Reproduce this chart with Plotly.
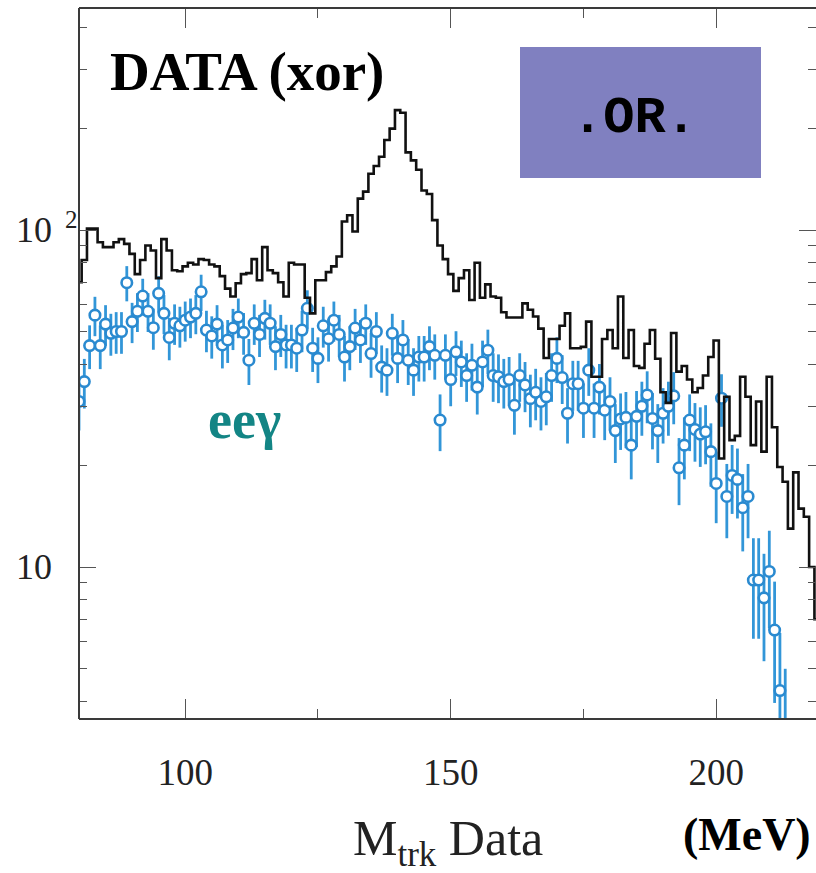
import plotly.graph_objects as go

# ---------------- data ----------------
hist_bins = list(range(80, 220))          # bin centres, MeV (1 MeV bins)
hist_counts = [
    70, 81.5, 101, 101, 92, 89, 89, 92, 94, 91,          # 80-89
    85, 74, 81.5, 90, 87, 72, 94, 87, 76, 75.5,          # 90-99
    78, 80, 79, 82, 81.5, 79, 78, 73, 67, 63.5,          # 100-109
    69.5, 74, 74.5, 82, 71, 89, 76, 74.5, 70, 63.5,      # 110-119
    80, 79, 79, 63, 56.6, 71, 71, 75, 78, 83.5,          # 120-129
    106, 110.6, 99, 124, 130, 147, 155, 165, 185, 200,   # 130-139
    227, 223, 170, 161, 151, 131, 128, 107, 90, 82,      # 140-149
    74, 66, 72, 76, 62, 80, 63, 69, 63.5, 63,            # 150-159
    57, 55, 55, 55, 60.6, 58, 55.4, 51, 41.7, 47.5,      # 160-169
    47.5, 52, 56.6, 44.6, 44.6, 45, 53.5, 36.7, 36.7, 47.5,  # 170-179
    50.5, 44.6, 63.5, 41.7, 50.5, 39.5, 39, 46, 50.5, 41.5,  # 180-189
    33, 30.7, 49.5, 38, 39.5, 36, 33, 34, 37, 42,        # 190-199
    47, 21, 32, 23.8, 24.5, 36.7, 32, 23, 31, 22,        # 200-209
    36.7, 26, 19.8, 17.9, 13, 19.1, 14.9, 14.1, 10, 7,   # 210-219
]

eeg_bins = list(range(80, 214))
eeg_counts = [
    31, 35.5, 45.4, 55.9, 45.4, 52.6, 49.4, 50, 50, 69.8,        # 80-89
    53.5, 57.4, 63.7, 57.4, 51.3, 64.9, 56.6, 48, 52.9, 52,      # 90-99
    54, 55.2, 56.6, 65.6, 50.5, 48.5, 52.6, 45.6, 47.2, 51.2,    # 100-109
    55.2, 49.7, 41.1, 52.9, 49, 54.7, 52.9, 45.1, 49, 45.6,      # 110-119
    45.6, 44.6, 50.5, 58.6, 44.6, 41.6, 52, 47.6, 54, 49,        # 120-129
    42, 45.1, 51.2, 47.2, 52.9, 43, 50, 39.2, 38.4, 49.4,        # 130-139
    41.6, 47.2, 41.1, 38.4, 42, 42, 45.1, 42.5, 27.3, 42.5,      # 140-149
    36, 43.5, 40.6, 37, 39.7, 34.2, 40.6, 44, 37, 36.7,          # 150-159
    35.5, 36, 30.2, 37, 34.7, 31.6, 33, 31, 32, 37,              # 160-169
    41.6, 36.5, 28.6, 35, 35, 29.6, 38.4, 29.6, 34.2, 29.2,      # 170-179
    31, 25.4, 27.5, 27.8, 23, 28, 30, 32.4, 27.6, 25.4,          # 180-189
    28.6, 30, 32.2, 19.7, 23, 27.3, 25.6, 24.8, 25.2, 22,        # 190-199
    17.7, 31.7, 16.2, 18.7, 18.2, 15, 16.2, 9.15, 9.15, 8.1,     # 200-209
    9.7, 6.5, 4.3, 3.2,                                          # 210-213
]

x_major = [100, 150, 200]
x_minor = [125, 175]
y_major = [10, 100]
y_minor = [4, 5, 6, 7, 8, 9, 20, 30, 40, 50, 60, 70, 80, 90, 200, 300, 400]

# ---------------- figure ----------------
W, H = 816, 873
L, R, T, B = 79, 0, 8, 154
PW = W - L - R
PH = H - T - B

BLUE = "#2a8ad0"
SERIF = "Liberation Serif, Times New Roman, serif"

fig = go.Figure()

fig.add_trace(go.Scatter(
    x=eeg_bins, y=eeg_counts, mode="markers",
    marker=dict(symbol="circle", size=10.5, color="white",
                line=dict(color=BLUE, width=2.6)),
    error_y=dict(type="sqrt", color="#3296d8", thickness=2.8, width=0),
    showlegend=False,
))

fig.add_trace(go.Scatter(
    x=hist_bins, y=hist_counts, mode="lines",
    line=dict(color="#111111", width=2.6, shape="hvh"),
    showlegend=False,
))

def px2paper_x(px):
    return (px - L) / PW

def px2paper_y(py):
    return (H - B - py) / PH

fig.update_layout(
    width=W, height=H,
    margin=dict(l=L, r=R, t=T, b=B, pad=0),
    paper_bgcolor="white", plot_bgcolor="white",
    showlegend=False,
    xaxis=dict(
        range=[80, 80 + PW / 5.31],
        showgrid=False, zeroline=False, showline=False,
        ticks="inside", ticklen=20, tickwidth=1.2, tickcolor="#555555",
        tickvals=x_major, ticktext=[str(v) for v in x_major],
        mirror="ticks",
        minor=dict(tickvals=x_minor, ticks="inside", ticklen=10,
                   tickwidth=1.2, tickcolor="#555555", showgrid=False),
        tickfont=dict(family=SERIF, size=37, color="#222222"),
        ticklabelstandoff=28,
    ),
    yaxis=dict(
        type="log",
        range=[0.549, 2.659],
        showgrid=False, zeroline=False, showline=False,
        ticks="inside", ticklen=17, tickwidth=1.2, tickcolor="#555555",
        tickvals=y_major, showticklabels=False,
        mirror="ticks",
        minor=dict(tickvals=y_minor, ticks="inside", ticklen=8,
                   tickwidth=1.2, tickcolor="#555555", showgrid=False),
    ),
)

# frame: left, top, bottom lines (right side lies beyond the picture)
frame = dict(type="line", xref="paper", yref="paper",
             line=dict(color="#3a3a3a", width=2))
fig.add_shape(x0=0, x1=0, y0=0, y1=1, **frame)
fig.add_shape(x0=0, x1=1, y0=1, y1=1, **frame)
fig.add_shape(x0=0, x1=1, y0=0, y1=0, **frame)

# .OR. box
fig.add_shape(type="rect", xref="paper", yref="paper",
              x0=px2paper_x(520), x1=px2paper_x(761),
              y0=px2paper_y(178), y1=px2paper_y(47),
              fillcolor="#8080c0", line=dict(width=0), layer="above")

ann = []
# y tick labels
ann.append(dict(text="10", xref="paper", yref="y", x=px2paper_x(14), y=1,
                xanchor="left", yanchor="middle", showarrow=False,
                font=dict(family=SERIF, size=36, color="#222222")))
ann.append(dict(text="10", xref="paper", yref="y", x=px2paper_x(14), y=2,
                xanchor="left", yanchor="middle", showarrow=False,
                font=dict(family=SERIF, size=36, color="#222222")))
ann.append(dict(text="2", xref="paper", yref="y", x=px2paper_x(63), y=2,
                xanchor="left", yanchor="middle", yshift=11, showarrow=False,
                font=dict(family=SERIF, size=25, color="#222222")))
# texts
ann.append(dict(text="<b>DATA (xor)</b>", xref="paper", yref="paper",
                x=px2paper_x(108), y=px2paper_y(72), xanchor="left", yanchor="middle",
                showarrow=False, font=dict(family=SERIF, size=55, color="black")))
ann.append(dict(text="<b>.OR.</b>", xref="paper", yref="paper",
                x=px2paper_x(634), y=px2paper_y(118), xanchor="center", yanchor="middle",
                showarrow=False,
                font=dict(family="Courier New, Liberation Mono, monospace", size=52, color="black")))
ann.append(dict(text="<b>eeγ</b>", xref="paper", yref="paper",
                x=px2paper_x(206), y=px2paper_y(420), xanchor="left", yanchor="middle",
                showarrow=False, font=dict(family=SERIF, size=54, color="#138585")))
ann.append(dict(text="M<sub>trk</sub> Data", xref="paper", yref="paper",
                x=px2paper_x(448), y=px2paper_y(842), xanchor="center", yanchor="middle",
                showarrow=False, font=dict(family=SERIF, size=50, color="#222222")))
ann.append(dict(text="<b>(MeV)</b>", xref="paper", yref="paper",
                x=px2paper_x(747), y=px2paper_y(834), xanchor="center", yanchor="middle",
                showarrow=False, font=dict(family=SERIF, size=46, color="black")))
fig.update_layout(annotations=ann)

fig.write_html("out.html")
